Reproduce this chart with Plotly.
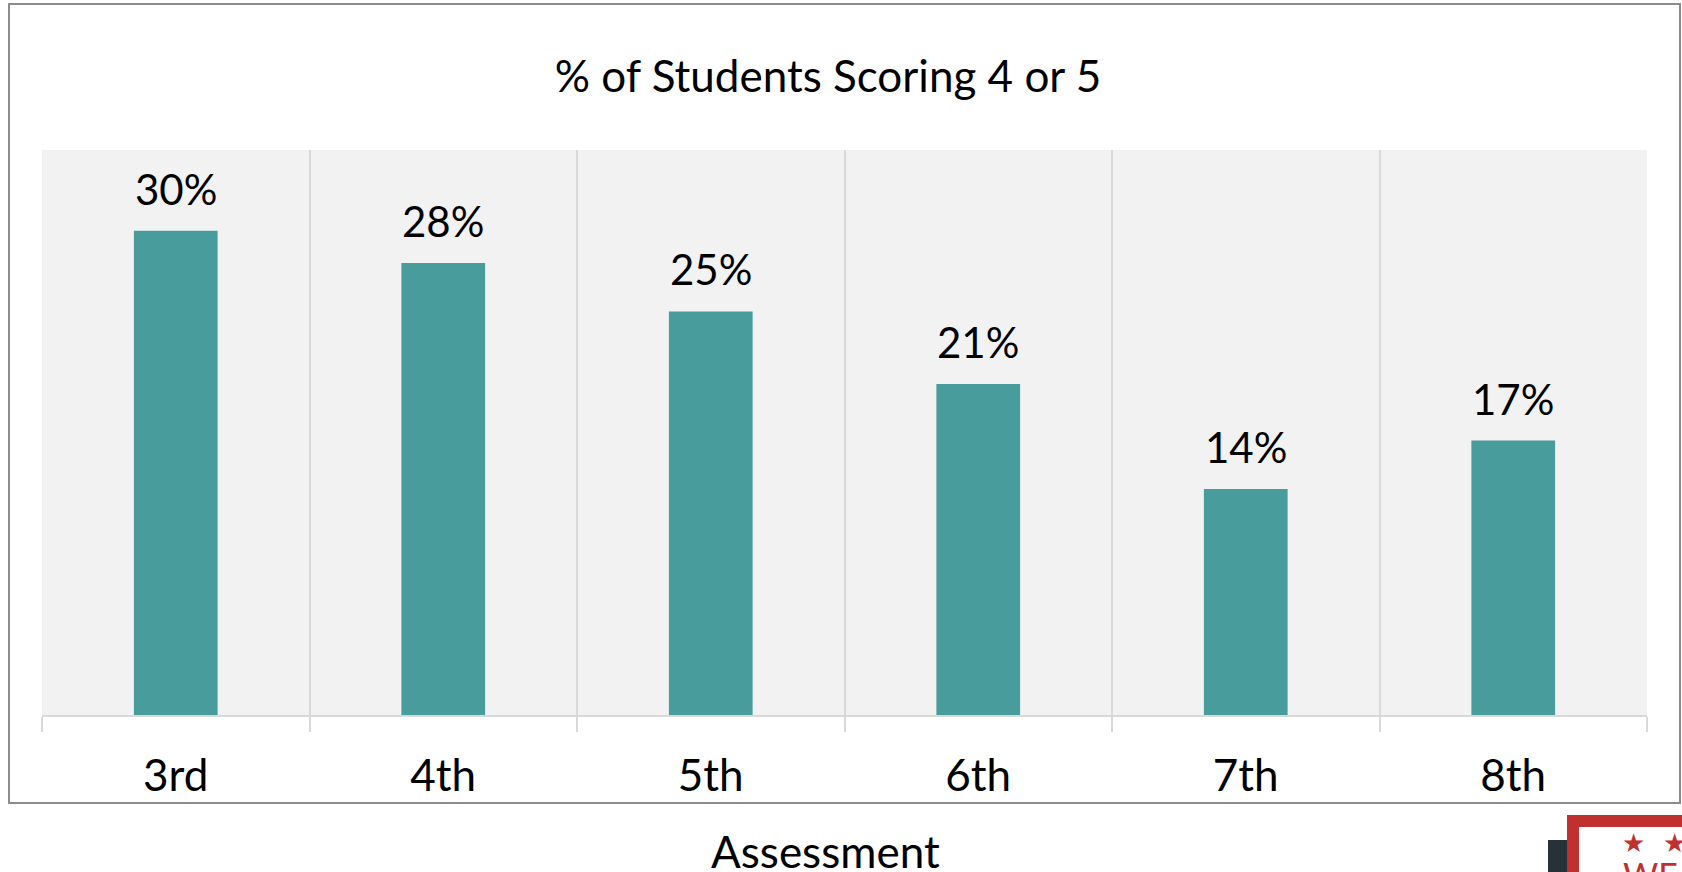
import plotly.graph_objects as go

categories = ["3rd", "4th", "5th", "6th", "7th", "8th"]
values = [0.30, 0.28, 0.25, 0.205, 0.14, 0.17]
labels = ["30%", "28%", "25%", "21%", "14%", "17%"]
title_text = "% of Students Scoring 4 or 5"
xaxis_title = "Assessment"

W, H = 1682, 872
L, R, T, B = 42, 35, 150, 157
pw, ph = W - L - R, H - T - B

def px(x):
    return (x - L) / pw

def py(y):
    return (H - B - y) / ph

BAR = "#489C9B"
GRID = "#D9D9D9"
FONT = "Lato"
RED = "#C0302F"

fig = go.Figure()
fig.add_trace(go.Bar(x=categories, y=values, marker=dict(color=BAR, line=dict(width=0)),
                     hoverinfo="skip"))

for c, v, t in zip(categories, values, labels):
    fig.add_annotation(x=c, y=v, text=t, showarrow=False, yanchor="bottom",
                       yshift=15, font=dict(family=FONT, size=42, color="#000000"))

# axis title as annotation
fig.add_annotation(xref="paper", yref="paper", x=px(825), y=py(851), text=xaxis_title,
                   showarrow=False, xanchor="center", yanchor="middle",
                   font=dict(family=FONT, size=44, color="#000000"))

shapes = [
    dict(type="rect", xref="paper", yref="paper", x0=px(9), x1=px(1680), y0=py(803), y1=py(4),
         line=dict(color="#8C8C8C", width=2), fillcolor="rgba(0,0,0,0)", layer="below"),
    # logo fragment
    dict(type="rect", xref="paper", yref="paper", x0=px(1548), x1=px(1567), y0=py(880), y1=py(840),
         line=dict(width=0), fillcolor="#263238"),
    dict(type="rect", xref="paper", yref="paper", x0=px(1573), x1=px(1720), y0=py(920), y1=py(821),
         line=dict(color=RED, width=12), fillcolor="#FFFFFF"),
]

fig.add_annotation(xref="paper", yref="paper", x=px(1633), y=py(843), text="★", showarrow=False,
                   xanchor="center", yanchor="middle", font=dict(family="DejaVu Sans", size=26, color=RED))
fig.add_annotation(xref="paper", yref="paper", x=px(1675), y=py(843), text="★", showarrow=False,
                   xanchor="center", yanchor="middle", font=dict(family="DejaVu Sans", size=26, color=RED))
fig.add_annotation(xref="paper", yref="paper", x=px(1621), y=py(852), text="WE", showarrow=False,
                   xanchor="left", yanchor="top", font=dict(family=FONT, size=34, color=RED))

fig.update_layout(
    width=W, height=H,
    margin=dict(l=L, r=R, t=T, b=B, pad=0),
    paper_bgcolor="#FFFFFF",
    plot_bgcolor="#F2F2F2",
    showlegend=False,
    bargap=0.687,
    title=dict(text=title_text, xref="container", yref="container", x=828 / W, y=1 - 77 / H,
               xanchor="center", yanchor="middle",
               font=dict(family=FONT, size=44, color="#000000")),
    shapes=shapes,
    xaxis=dict(
        type="category", tickson="boundaries", showgrid=True, gridcolor=GRID, gridwidth=2,
        ticks="outside", ticklen=15, tickcolor=GRID, tickwidth=2,
        showline=True, linecolor=GRID, linewidth=2,
        tickfont=dict(family=FONT, size=44, color="#000000"),
        ticklabelstandoff=21,
        zeroline=False, fixedrange=True,
    ),
    yaxis=dict(range=[0, 0.35], visible=False, showgrid=False, zeroline=False, fixedrange=True),
)

fig.write_html("out.html", config=dict(displayModeBar=False),
               post_script="document.body.style.margin='0';document.body.style.overflow='hidden';")
